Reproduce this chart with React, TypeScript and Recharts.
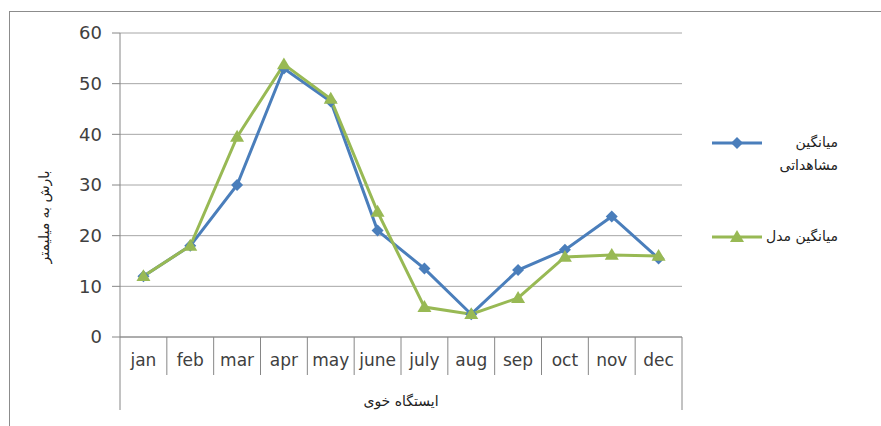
import { LineChart, Line, XAxis, YAxis, CartesianGrid, Label } from 'recharts'

const months = ['jan', 'feb', 'mar', 'apr', 'may', 'june', 'july', 'aug', 'sep', 'oct', 'nov', 'dec']
const observed = [12, 18, 30, 53, 46.5, 21, 13.5, 4.5, 13.2, 17.2, 23.8, 15.5]
const model = [12, 18, 39.5, 53.8, 47, 24.7, 5.9, 4.5, 7.7, 15.8, 16.2, 16]
const yTicks = [0, 10, 20, 30, 40, 50, 60]

const OBS_NAME = 'میانگین مشاهداتی'
const MODEL_NAME = 'میانگین مدل'
const X_TITLE = 'ایستگاه خوی'
const Y_TITLE = 'بارش به میلیمتر'

const BLUE = '#4A7EBB'
const GREEN = '#98B954'
const AXIS = '#868686'
const FONT = '"DejaVu Sans", sans-serif'

// plot area 120..682 horizontally
const PLOT_W = 562
const STEP = PLOT_W / months.length

const data = months.map((m, i) => ({ month: m, observed: observed[i], model: model[i] }))

function Diamond(props: any) {
  const { cx, cy } = props
  if (cx == null || cy == null) return null
  const r = 6
  return <polygon points={`${cx},${cy - r} ${cx + r},${cy} ${cx},${cy + r} ${cx - r},${cy}`} fill={BLUE} />
}

function Triangle(props: any) {
  const { cx, cy } = props
  if (cx == null || cy == null) return null
  const r = 7
  return <polygon points={`${cx},${cy - r} ${cx + r},${cy + r * 0.7} ${cx - r},${cy + r * 0.7}`} fill={GREEN} />
}

function MonthTick(props: any) {
  const { x, y, payload, index } = props
  const last = index === months.length - 1
  return (
    <g>
      <line x1={x - STEP / 2} x2={x - STEP / 2} y1={y} y2={y + (index === 0 ? 73 : 38)} stroke={AXIS} />
      {last && <line x1={x + STEP / 2} x2={x + STEP / 2} y1={y} y2={y + 73} stroke={AXIS} />}
      <text x={x} y={y + 29} textAnchor="middle" fontSize={17} fill="#404040" style={{ fontFamily: FONT }}>
        {payload.value}
      </text>
    </g>
  )
}

// legend drawn beside the chart, Excel style (icon left, rtl text right)
function LegendBox() {
  const text = { position: 'absolute' as const, right: 43, direction: 'rtl' as const, textAlign: 'right' as const, fontSize: 14, lineHeight: '23px', color: '#222', fontFamily: FONT, whiteSpace: 'nowrap' as const }
  return (
    <div style={{ position: 'absolute', left: 700, top: 125, width: 181, height: 130 }}>
      <svg style={{ position: 'absolute', left: 12, top: 11 }} width={50} height={14}>
        <line x1={0} x2={50} y1={7} y2={7} stroke={BLUE} strokeWidth={3} />
        <Diamond cx={25} cy={7} />
      </svg>
      <div style={{ ...text, top: 6 }}>میانگین<br />مشاهداتی</div>
      <svg style={{ position: 'absolute', left: 12, top: 105 }} width={50} height={14}>
        <line x1={0} x2={50} y1={7} y2={7} stroke={GREEN} strokeWidth={3} />
        <Triangle cx={25} cy={7} />
      </svg>
      <div style={{ ...text, top: 100 }}>{MODEL_NAME}</div>
    </div>
  )
}

export default function App() {
  return (
    <div style={{ position: 'absolute', left: 0, top: 0, width: 881, height: 426, background: 'white', overflow: 'hidden' }}>
      <div style={{ position: 'absolute', left: 9, top: 11, width: 880, height: 420, border: '1px solid #8c8c8c' }} />
      <LineChart width={881} height={426} data={data} margin={{ top: 33, right: 199, bottom: 16, left: 20 }}>
        <CartesianGrid vertical={false} stroke="#A6A6A6" />
        <XAxis
          dataKey="month"
          padding={{ left: STEP / 2, right: STEP / 2 }}
          height={73}
          tickSize={0}
          tickMargin={0}
          tickLine={false}
          axisLine={{ stroke: AXIS }}
          tick={<MonthTick />}
          interval={0}
        >
          <Label value={X_TITLE} position="insideBottom" offset={4} style={{ fontFamily: FONT, fontSize: 14, fill: '#222' }} />
        </XAxis>
        <YAxis
          width={100}
          domain={[0, 60]}
          ticks={yTicks}
          tickSize={8}
          tickMargin={10}
          axisLine={{ stroke: AXIS }}
          tickLine={{ stroke: AXIS }}
          tick={{ fontSize: 18, fill: '#404040', fontFamily: FONT }}
        >
          <Label
            content={() => (
              <text x={44} y={217} transform="rotate(-90 44 217)" textAnchor="middle" dominantBaseline="central" fontSize={14} fill="#222" style={{ fontFamily: FONT }}>
                {Y_TITLE}
              </text>
            )}
          />
        </YAxis>
        <Line dataKey="observed" name={OBS_NAME} stroke={BLUE} strokeWidth={3} dot={<Diamond />} activeDot={false} isAnimationActive={false} />
        <Line dataKey="model" name={MODEL_NAME} stroke={GREEN} strokeWidth={3} dot={<Triangle />} activeDot={false} isAnimationActive={false} />
      </LineChart>
      <LegendBox />
    </div>
  )
}
